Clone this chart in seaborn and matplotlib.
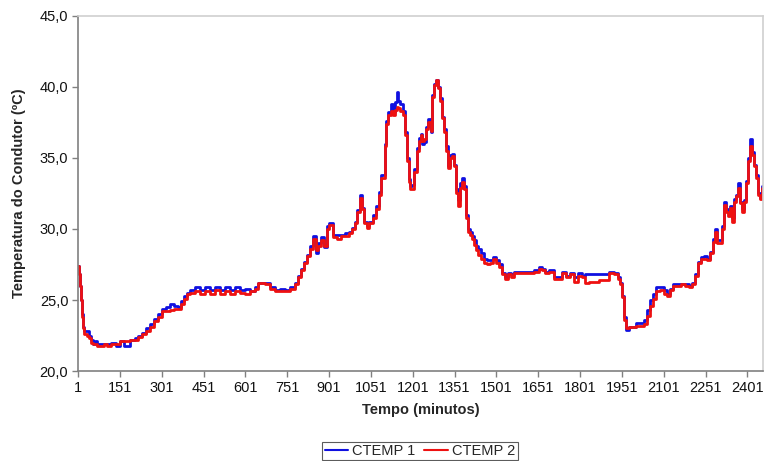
import matplotlib
matplotlib.use("Agg")
import matplotlib.pyplot as plt
import seaborn as sns
import pandas as pd
from matplotlib.lines import Line2D

# Time (minutes) of each reading
tempo = [1, 5, 8, 12, 15, 19, 22, 33, 40, 48, 55, 62, 69, 83, 94, 105, 119, 137, 151, 166,
         187, 205, 216, 230, 244, 259, 273, 287, 302, 316, 330, 345, 359, 370, 380, 391, 402, 420, 438, 456,
         474, 491, 509, 527, 545, 563, 581, 599, 617, 635, 645, 670, 688, 706, 724, 742, 760, 778, 789, 799,
         810, 821, 832, 842, 853, 860, 871, 882, 892, 900, 914, 928, 943, 957, 971, 982, 993, 1003, 1011, 1018,
         1025, 1036, 1046, 1057, 1068, 1079, 1089, 1100, 1107, 1114, 1122, 1129, 1136, 1143, 1150, 1157, 1165, 1172, 1179, 1186,
         1193, 1200, 1207, 1215, 1222, 1229, 1236, 1243, 1250, 1257, 1265, 1272, 1279, 1286, 1293, 1300, 1307, 1315, 1322, 1329,
         1336, 1343, 1350, 1357, 1365, 1372, 1379, 1386, 1393, 1400, 1408, 1415, 1422, 1429, 1436, 1447, 1458, 1469, 1479, 1490,
         1501, 1512, 1522, 1533, 1544, 1554, 1565, 1583, 1601, 1619, 1637, 1655, 1665, 1676, 1691, 1709, 1723, 1737, 1751, 1766,
         1780, 1794, 1809, 1819, 1834, 1852, 1870, 1888, 1906, 1923, 1938, 1945, 1952, 1959, 1966, 1977, 1991, 2002, 2016, 2030,
         2041, 2052, 2063, 2073, 2088, 2102, 2113, 2123, 2134, 2148, 2163, 2177, 2191, 2202, 2213, 2224, 2235, 2245, 2256, 2267,
         2277, 2285, 2292, 2303, 2310, 2317, 2324, 2331, 2338, 2346, 2353, 2360, 2367, 2374, 2381, 2388, 2396, 2403, 2410, 2417,
         2424, 2431, 2438, 2446, 2452]

ctemp1 = [27.4, 26.8, 26.0, 25.0, 24.0, 23.1, 22.8, 22.8, 22.5, 22.2, 21.9, 22.1, 21.9, 21.9, 21.9, 21.9, 22.0, 21.8, 22.1, 21.8,
          22.2, 22.3, 22.5, 22.7, 23.0, 23.3, 23.7, 24.0, 24.4, 24.5, 24.7, 24.6, 24.5, 24.9, 25.3, 25.5, 25.7, 25.9, 25.7, 25.9,
          25.7, 25.9, 25.7, 25.9, 25.7, 25.9, 25.7, 25.8, 25.6, 25.9, 26.2, 26.2, 25.9, 25.7, 25.8, 25.7, 25.9, 26.2, 26.7, 27.2,
          27.7, 28.2, 28.8, 29.5, 28.3, 29.0, 29.4, 28.7, 30.2, 30.4, 29.6, 29.6, 29.6, 29.7, 29.8, 30.1, 30.5, 31.3, 32.4, 31.5,
          30.5, 30.2, 30.5, 31.0, 31.6, 32.6, 33.8, 36.0, 37.6, 38.2, 38.8, 38.2, 38.9, 39.6, 39.0, 38.8, 38.3, 36.8, 35.0, 33.5,
          33.0, 33.1, 34.2, 35.7, 36.4, 36.7, 36.0, 36.1, 37.2, 37.7, 36.8, 39.4, 40.2, 40.5, 40.0, 39.2, 37.9, 37.0, 35.8, 34.4,
          35.2, 35.3, 34.5, 32.8, 32.0, 33.2, 33.6, 33.0, 31.0, 30.0, 29.8, 29.5, 29.2, 28.8, 28.6, 28.3, 27.9, 27.8, 27.8, 28.0,
          27.8, 27.5, 26.9, 26.6, 26.9, 26.8, 27.0, 27.0, 27.0, 27.0, 27.1, 27.3, 27.2, 27.0, 27.1, 26.6, 26.6, 27.0, 26.7, 26.9,
          26.6, 26.9, 26.7, 26.8, 26.8, 26.8, 26.8, 26.8, 27.0, 26.9, 26.6, 26.2, 25.3, 23.8, 22.9, 23.1, 23.1, 23.4, 23.4, 23.6,
          24.3, 25.0, 25.4, 25.9, 25.9, 25.7, 25.4, 25.8, 26.1, 26.1, 26.1, 26.1, 26.0, 26.2, 26.8, 27.7, 28.0, 28.1, 27.9, 28.4,
          29.3, 30.0, 29.2, 29.2, 30.2, 31.9, 31.4, 31.1, 31.6, 30.8, 32.1, 32.4, 33.2, 31.9, 31.4, 32.0, 33.4, 35.0, 36.3, 35.4,
          34.5, 33.8, 32.5, 32.2, 33.0]

ctemp2 = [27.4, 26.8, 26.0, 25.0, 23.8, 23.0, 22.6, 22.5, 22.3, 22.0, 21.9, 21.9, 21.8, 21.8, 21.9, 21.8, 21.9, 21.9, 22.1, 22.1,
          22.2, 22.2, 22.4, 22.6, 22.8, 23.1, 23.5, 23.8, 24.2, 24.2, 24.3, 24.4, 24.4, 24.7, 25.1, 25.4, 25.5, 25.6, 25.4, 25.6,
          25.4, 25.7, 25.4, 25.6, 25.4, 25.6, 25.5, 25.4, 25.6, 25.8, 26.2, 26.1, 25.8, 25.6, 25.6, 25.6, 25.8, 26.1, 26.6, 27.1,
          27.6, 28.1, 28.6, 29.3, 28.5, 28.8, 29.2, 28.8, 30.0, 30.3, 29.4, 29.3, 29.5, 29.5, 29.7, 30.0, 30.4, 31.2, 32.2, 31.4,
          30.4, 30.1, 30.4, 30.8, 31.4, 32.4, 33.6, 35.8, 37.4, 38.0, 38.3, 38.0, 38.4, 38.6, 38.5, 38.3, 38.0, 36.6, 34.8, 33.3,
          32.8, 32.8, 34.0, 35.5, 36.2, 36.6, 36.2, 36.3, 37.0, 37.5, 36.9, 39.3, 40.1, 40.5, 39.9, 39.0, 37.8, 36.8, 35.5, 34.3,
          35.0, 35.1, 34.4, 32.5, 31.6, 32.9, 33.3, 32.8, 30.8, 29.8, 29.6, 29.3, 28.9, 28.5, 28.2, 27.9, 27.6, 27.5, 27.6, 27.9,
          27.6, 27.3, 26.8, 26.5, 26.8, 26.6, 26.9, 26.9, 26.9, 26.9, 27.0, 27.2, 27.1, 26.9, 27.0, 26.5, 26.5, 26.9, 26.6, 26.8,
          26.3, 26.7, 26.6, 26.2, 26.3, 26.3, 26.4, 26.4, 26.9, 26.8, 26.5, 26.1, 25.2, 23.6, 23.0, 23.1, 23.1, 23.2, 23.2, 23.3,
          23.9, 24.6, 25.1, 25.6, 25.7, 25.4, 25.3, 25.7, 26.0, 26.0, 26.1, 26.0, 25.9, 26.1, 26.7, 27.6, 27.9, 27.9, 27.8, 28.3,
          29.1, 29.8, 29.0, 29.0, 30.0, 31.7, 31.2, 30.9, 31.5, 30.5, 31.9, 32.3, 32.9, 31.8, 31.2, 31.9, 33.2, 34.8, 35.8, 35.2,
          34.4, 33.6, 32.4, 32.1, 32.9]

series_names = ["CTEMP 1", "CTEMP 2"]
x_ticks = list(range(1, 2402, 150))
y_ticks = [20, 25, 30, 35, 40, 45]

df = pd.concat([
    pd.DataFrame({"Tempo": tempo, "Temp": ctemp1, "Serie": series_names[0]}),
    pd.DataFrame({"Tempo": tempo, "Temp": ctemp2, "Serie": series_names[1]}),
], ignore_index=True)

sns.set_theme(style="white")
plt.rcParams["font.family"] = ["Liberation Sans", "DejaVu Sans"]

fig = plt.figure(figsize=(7.65, 4.61), dpi=100)
ax = fig.add_axes([0.102, 0.195, 0.895, 0.771])

colors = {"CTEMP 1": "#1010e0", "CTEMP 2": "#ee1111"}
sns.lineplot(data=df, x="Tempo", y="Temp", hue="Serie", palette=colors,
             estimator=None, drawstyle="steps-post", linewidth=2.0, ax=ax, legend=False)

ax.set_xlim(1, 2456)
ax.set_ylim(20, 45)
ax.set_xticks(x_ticks)
ax.set_xticklabels([str(v) for v in x_ticks], fontsize=10.5)
ax.set_yticks(y_ticks)
ax.set_yticklabels([f"{v:.1f}".replace(".", ",") for v in y_ticks], fontsize=10.5)
ax.tick_params(axis="both", direction="out", length=4, width=1, color="#808080",
               pad=3, labelcolor="#111111", bottom=True, left=True)

ax.set_xlabel("Tempo (minutos)", fontsize=10.5, fontweight="bold", labelpad=6)
ax.set_ylabel("Temperatura do Condutor (ºC)", fontsize=10.5, fontweight="bold", labelpad=10)

for side in ["left", "bottom"]:
    ax.spines[side].set_color("#808080")
    ax.spines[side].set_linewidth(1.2)
for side in ["top", "right"]:
    ax.spines[side].set_color("#d0d0d0")
    ax.spines[side].set_linewidth(1.2)
ax.grid(False)

handles = [Line2D([0], [0], color=colors[n], lw=1.5) for n in series_names]
leg = fig.legend(handles, series_names, loc="center", bbox_to_anchor=(420 / 765, 1 - 451 / 461),
                 ncol=2, frameon=True, fancybox=False, edgecolor="#333333", fontsize=10.5,
                 handlelength=1.6, handletextpad=0.3, columnspacing=0.6, borderpad=0.15,
                 borderaxespad=0)
leg.get_frame().set_linewidth(0.8)

fig.savefig("out.png", dpi=100)
